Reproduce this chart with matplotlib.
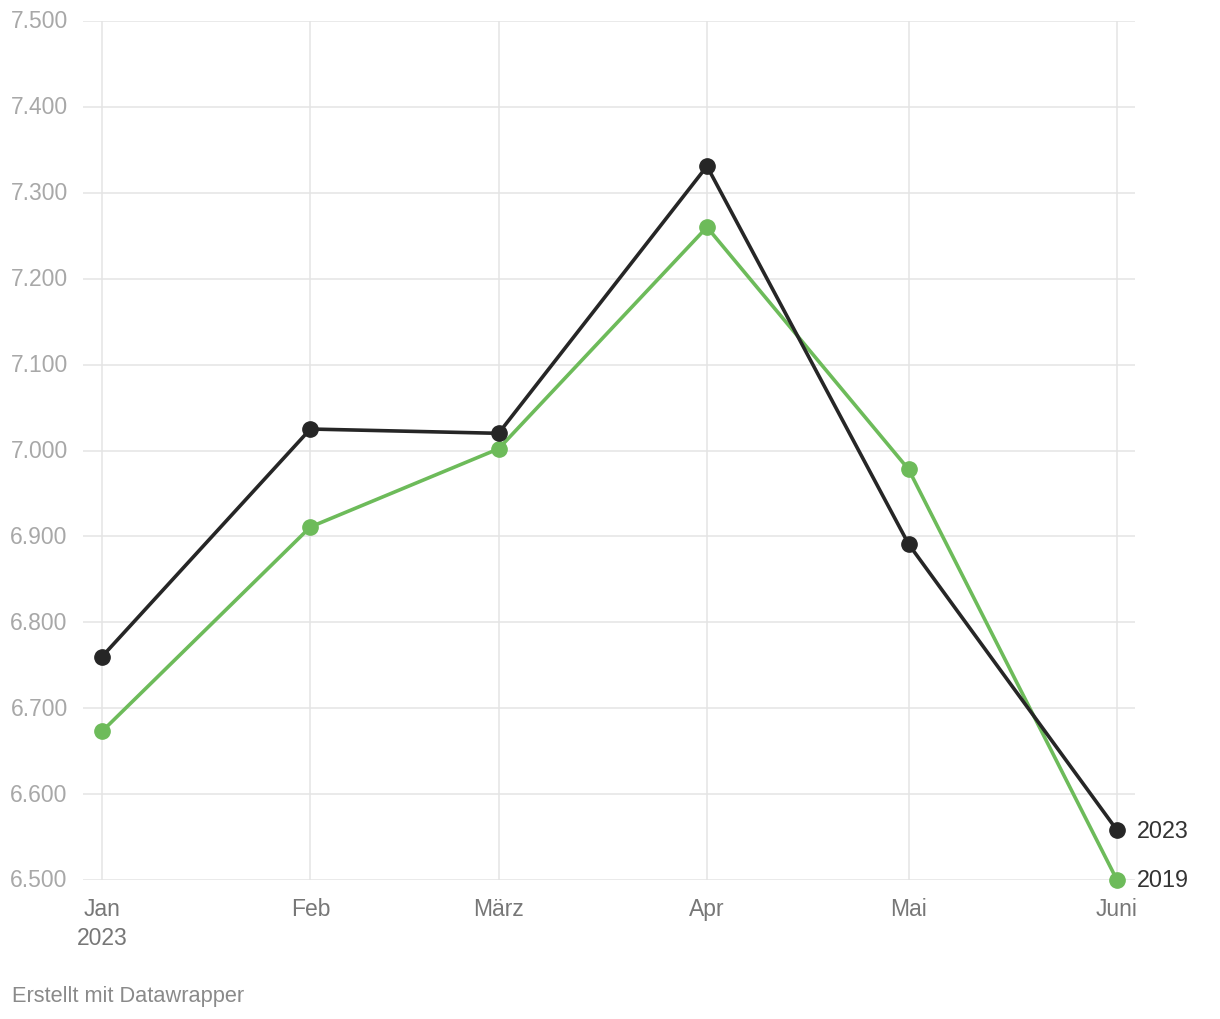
import matplotlib
matplotlib.use("Agg")
import matplotlib.pyplot as plt
import matplotlib.dates as mdates
from matplotlib.ticker import FuncFormatter
import numpy as np
import datetime as dt

plt.rcParams['font.family'] = ['Liberation Sans', 'DejaVu Sans']

months = ["2023-01-01", "2023-02-01", "2023-03-01", "2023-04-01", "2023-05-01", "2023-06-01"]
month_labels = ["Jan\n2023", "Feb", "März", "Apr", "Mai", "Juni"]
series_2023 = [6760, 7025, 7020, 7331, 6891, 6558]
series_2019 = [6673, 6911, 7002, 7260, 6978, 6500]
y_ticks = [6500, 6600, 6700, 6800, 6900, 7000, 7100, 7200, 7300, 7400, 7500]

dates = [dt.datetime.strptime(m, "%Y-%m-%d") for m in months]

fig = plt.figure(figsize=(12.2, 10.2), dpi=100)
W, H = 1220, 1020
ax = fig.add_axes([83 / W, (H - 881) / H, (1135 - 83) / W, (881 - 22) / H])

# x limits so Jan1 -> 102px, Jun1 -> 1117px
d0 = mdates.date2num(dates[0])
d1 = mdates.date2num(dates[-1])
ppd = (1117 - 102) / (d1 - d0)
ax.set_xlim(d0 - (102 - 83) / ppd, d1 + (1135 - 1117) / ppd)
ax.set_ylim(6500, 7500)

grid_c = "#e4e4e4"
ax.set_yticks(y_ticks)
ax.yaxis.set_major_formatter(FuncFormatter(lambda v, p: f"{int(v):,}".replace(",", ".")))
ax.set_xticks([mdates.date2num(d) for d in dates])
ax.set_xticklabels(month_labels)
ax.grid(True, color=grid_c, linewidth=1.1)
ax.set_axisbelow(True)
for s in ax.spines.values():
    s.set_visible(False)
ax.tick_params(axis="both", length=0)
ax.tick_params(axis="y", labelsize=16.5, labelcolor="#a8a8a8", pad=11)
ax.tick_params(axis="x", labelsize=16.5, labelcolor="#777777", pad=12)
for lbl in ax.get_yticklabels():
    lbl.set_verticalalignment("center")
for lbl in ax.get_xticklabels():
    lbl.set_linespacing(1.35)

black = "#262626"
green = "#6dbb5a"
ax.plot(dates, series_2023, color=black, linewidth=2.6, marker="o", markersize=11, clip_on=False, zorder=4)
ax.plot(dates, series_2019, color=green, linewidth=2.6, marker="o", markersize=11, clip_on=False, zorder=3)

ax.annotate("2023", (dates[-1], series_2023[-1]), xytext=(14, 0), textcoords="offset points",
            va="center", ha="left", fontsize=16.8, color="#333333", annotation_clip=False)
ax.annotate("2019", (dates[-1], series_2019[-1]), xytext=(14, 0), textcoords="offset points",
            va="center", ha="left", fontsize=16.8, color="#333333", annotation_clip=False)

fig.text(12 / W, 1 - 997 / H, "Erstellt mit Datawrapper", fontsize=15.7, color="#8a8a8a",
         ha="left", va="center")

fig.savefig("out.png", dpi=100)
